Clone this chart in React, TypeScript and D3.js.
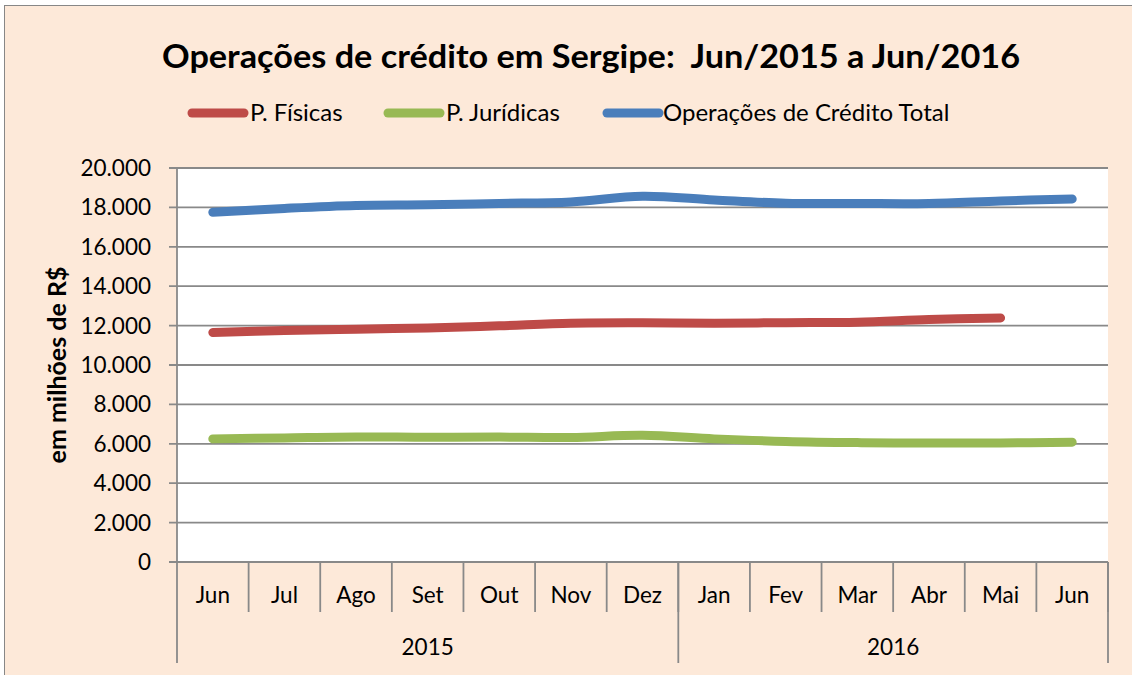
import React from "react";
import * as d3 from "d3";

const months = ["Jun", "Jul", "Ago", "Set", "Out", "Nov", "Dez", "Jan", "Fev", "Mar", "Abr", "Mai", "Jun"];
const years = ["2015", "2016"];
const yearCounts = [7, 6];
const yTicks = [0, 2000, 4000, 6000, 8000, 10000, 12000, 14000, 16000, 18000, 20000];

const pFisicas: (number | null)[] = [11650, 11750, 11820, 11880, 11990, 12120, 12140, 12120, 12150, 12170, 12310, 12390, null];
const pJuridicas: number[] = [6250, 6300, 6350, 6330, 6340, 6320, 6430, 6250, 6120, 6060, 6040, 6040, 6080];
const total: number[] = [17750, 17950, 18100, 18130, 18200, 18280, 18570, 18380, 18210, 18200, 18200, 18330, 18430];

const series = [
  { name: "P. Físicas", values: pFisicas, color: "#BE4B48" },
  { name: "P. Jurídicas", values: pJuridicas, color: "#98B954" },
  { name: "Operações de Crédito Total", values: total, color: "#4A7EBB" },
];

const W = 1132, H = 675;
const L = 177, R = 1108, T = 168, B = 562;
const FONT = "Lato, 'Open Sans', sans-serif";
const GRID = "#898989";

export default function App() {
  const x = d3.scaleBand<number>().domain(months.map((_, i) => i)).range([L, R]).padding(0);
  const bw = x.bandwidth();
  const cx = (i: number) => (x(i) as number) + bw / 2;
  const y = d3.scaleLinear().domain([0, 20000]).range([B, T]);
  const fmt = (v: number) => (v === 0 ? "0" : d3.format(",")(v).replace(/,/g, "."));

  const line = d3
    .line<number | null>()
    .defined((d) => d != null)
    .x((_, i) => cx(i))
    .y((d) => y(d as number))
    .curve(d3.curveCatmullRom.alpha(0.5));

  const legend = [
    { lx: 188, tx: 250 },
    { lx: 384, tx: 446 },
    { lx: 603, tx: 663 },
  ];

  let acc = 0;
  const yearBounds = years.map((yr, k) => {
    const start = acc;
    acc += yearCounts[k];
    return { yr, start, end: acc };
  });

  return (
    <svg width={W} height={H} style={{ position: "absolute", left: 0, top: 0 }} fontFamily={FONT}>
      <rect x={0} y={0} width={W} height={H} fill="#ffffff" />
      <rect x={4.5} y={5.5} width={W + 10} height={H + 10} fill="#FDE9D9" stroke="#878787" strokeWidth={1} />
      <text x={591} y={68} textAnchor="middle" fontSize={33} fontWeight="bold" fill="#000" textLength={858} lengthAdjust="spacingAndGlyphs" style={{ whiteSpace: "pre" }}>
        {"Operações de crédito em Sergipe:  Jun/2015 a Jun/2016"}
      </text>

      {series.map((s, k) => (
        <g key={s.name}>
          <line x1={legend[k].lx + 4} x2={legend[k].lx + 56} y1={113} y2={113} stroke={s.color} strokeWidth={9} strokeLinecap="round" />
          <text x={legend[k].tx} y={121} fontSize={24} fill="#000">{s.name}</text>
        </g>
      ))}

      <rect x={L} y={T} width={R - L} height={B - T} fill="#ffffff" />

      {yTicks.map((t) => (
        <g key={t}>
          <line x1={L - 8} x2={R} y1={y(t)} y2={y(t)} stroke={GRID} strokeWidth={1.8} />
          <text x={151} y={y(t) + 8} textAnchor="end" fontSize={22.5} fill="#000">{fmt(t)}</text>
        </g>
      ))}

      <line x1={L} x2={L} y1={T} y2={663} stroke={GRID} strokeWidth={1.8} />
      {months.map((_, i) => (
        <line key={"s" + i} x1={(x(i) as number) + bw} x2={(x(i) as number) + bw} y1={B} y2={612} stroke={GRID} strokeWidth={1.8} />
      ))}
      {yearBounds.map((yb) => (
        <line key={"yb" + yb.yr} x1={(x(yb.end - 1) as number) + bw} x2={(x(yb.end - 1) as number) + bw} y1={B} y2={663} stroke={GRID} strokeWidth={1.8} />
      ))}
      {months.map((m, i) => (
        <text key={"m" + i} x={cx(i)} y={603} textAnchor="middle" fontSize={22.5} fill="#000">{m}</text>
      ))}
      {yearBounds.map((yb) => (
        <text key={"yt" + yb.yr} x={((x(yb.start) as number) + (x(yb.end - 1) as number) + bw) / 2} y={655} textAnchor="middle" fontSize={22.5} fill="#000">{yb.yr}</text>
      ))}

      <text transform={`translate(66,${(T + B) / 2}) rotate(-90)`} textAnchor="middle" fontSize={25} fontWeight="bold" fill="#000">
        em milhões de R$
      </text>

      {series.map((s) => (
        <path key={"p" + s.name} d={line(s.values) || ""} fill="none" stroke={s.color} strokeWidth={9} strokeLinecap="round" strokeLinejoin="round" />
      ))}
    </svg>
  );
}
